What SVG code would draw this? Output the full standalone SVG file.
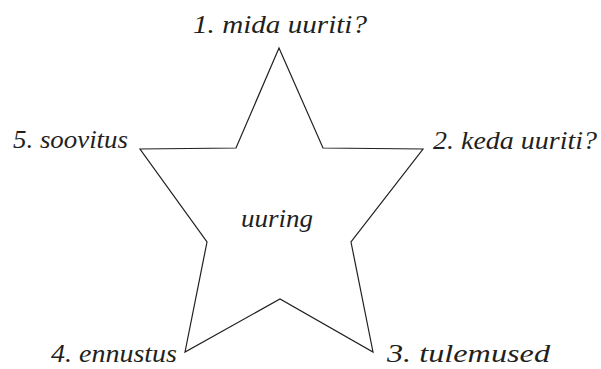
<svg xmlns="http://www.w3.org/2000/svg" width="601" height="369" viewBox="0 0 601 369">
<style>
  .lbl { font-family: "Liberation Serif", "Times New Roman", serif; font-style: italic; font-size: 26px; fill: #231f20; }
  .star { fill: #ffffff; stroke: #231f20; stroke-width: 1.2; stroke-linejoin: miter; }
</style>
<rect width="601" height="369" fill="#ffffff"/>
<g id="connectors"></g>
<g id="star-node">
  <polygon class="star" points="279,48 323,148 423,149 351,242 373,352 280,299 185,352 207,242 140,149 236,148"/>
  <text class="lbl" x="241" y="227" textLength="72" lengthAdjust="spacingAndGlyphs">uuring</text>
</g>
<g id="label-1"><text class="lbl" x="193" y="33" textLength="174" lengthAdjust="spacingAndGlyphs">1. mida uuriti?</text></g>
<g id="label-2"><text class="lbl" x="433" y="149" textLength="164" lengthAdjust="spacingAndGlyphs">2. keda uuriti?</text></g>
<g id="label-3"><text class="lbl" x="387" y="362" textLength="163" lengthAdjust="spacingAndGlyphs">3. tulemused</text></g>
<g id="label-4"><text class="lbl" x="51" y="362" textLength="126" lengthAdjust="spacingAndGlyphs">4. ennustus</text></g>
<g id="label-5"><text class="lbl" x="13" y="148" textLength="115" lengthAdjust="spacingAndGlyphs">5. soovitus</text></g>
</svg>
